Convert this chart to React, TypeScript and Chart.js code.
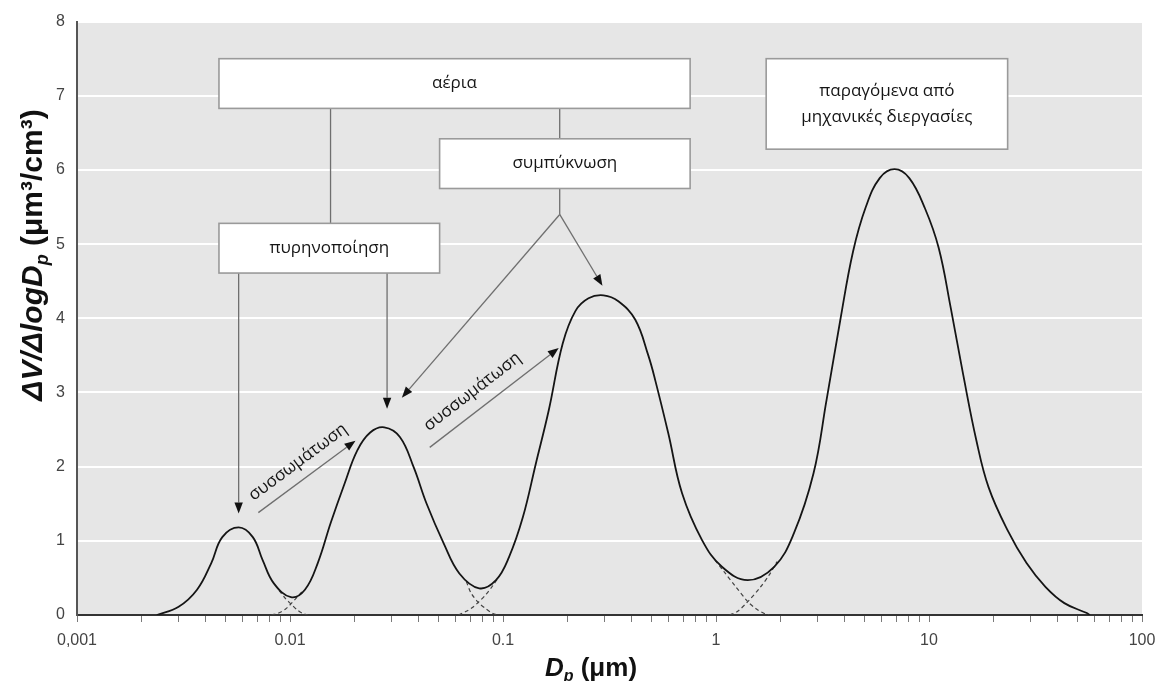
import React, { useEffect, useRef } from "react";
import { Chart, registerables } from "chart.js";

Chart.register(...registerables);

// ---- Data (particle diameter in µm, ΔV/ΔlogDp in µm³/cm³) ----
const sizeUm = [
  0.00237, 0.003, 0.00366, 0.00427, 0.00481, 0.00574, 0.00669, 0.00744, 0.00838,
  0.0101, 0.01175, 0.0135, 0.01552, 0.01803, 0.0207, 0.0238, 0.0277, 0.0328, 0.0381,
  0.0438, 0.0526, 0.0624, 0.0773, 0.0927, 0.1067, 0.124, 0.1426, 0.164, 0.1907, 0.219,
  0.252, 0.2965, 0.348, 0.418, 0.481, 0.519, 0.597, 0.693, 0.86, 1.066, 1.41, 1.876,
  2.32, 2.87, 3.3, 3.83, 4.4, 5.05, 5.87, 6.89, 8.08, 9.58, 11.1, 12.65, 14.45, 16.7,
  19.05, 23.4, 28.7, 35.2, 43.2, 54.7, 57,
];
const dVdlogDp = [
  0, 0.11, 0.34, 0.7, 1.05, 1.18, 1.05, 0.74, 0.43,
  0.24, 0.34, 0.7, 1.24, 1.77, 2.22, 2.46, 2.53, 2.4, 1.99,
  1.5, 0.97, 0.56, 0.36, 0.47, 0.78, 1.32, 2.04, 2.76, 3.66, 4.1,
  4.27, 4.31, 4.23, 3.98, 3.5, 3.16, 2.45, 1.64, 1.01, 0.65, 0.47, 0.65,
  1.1, 1.91, 2.89, 3.97, 4.9, 5.5, 5.89, 6.01, 5.89, 5.48, 4.95, 4.14, 3.25, 2.35,
  1.72, 1.14, 0.7, 0.38, 0.16, 0.03, 0,
];

// dashed tails of the individual modes where they overlap
const nucleiTailX = [0.0089, 0.00953, 0.0101, 0.0108, 0.0115, 0.0121];
const nucleiTailY = [0.33, 0.22, 0.15, 0.07, 0.02, 0];
const aitkenRiseX = [0.00818, 0.0089, 0.00953, 0.0101, 0.0108, 0.0115];
const aitkenRiseY = [0, 0.03, 0.08, 0.15, 0.24, 0.33];
const aitkenTailX = [0.0673, 0.0707, 0.0765, 0.0834, 0.0898, 0.0948];
const aitkenTailY = [0.45, 0.3, 0.17, 0.08, 0.02, 0];
const accumRiseX = [0.0618, 0.0673, 0.0718, 0.0765, 0.0834, 0.0898, 0.0948];
const accumRiseY = [0, 0.05, 0.1, 0.17, 0.28, 0.4, 0.5];
const accumTailX = [0.989, 1.1, 1.224, 1.41, 1.549, 1.686, 1.778];
const accumTailY = [0.74, 0.57, 0.4, 0.18, 0.08, 0.02, 0];
const coarseRiseX = [1.16, 1.264, 1.41, 1.6, 1.778, 1.936];
const coarseRiseY = [0, 0.05, 0.18, 0.36, 0.54, 0.72];

// axes
const xTickValues = [0.001, 0.01, 0.1, 1, 10, 100];
const xTickLabels = ["0,001", "0.01", "0.1", "1", "10", "100"];
const yMin = 0;
const yMax = 8;

// ---- Annotations (in data coordinates) ----
const boxes = [
  { x1: 0.00464, x2: 0.756, yTop: 7.5, yBottom: 6.83, lines: ["αέρια"] },
  { x1: 0.0504, x2: 0.756, yTop: 6.42, yBottom: 5.75, lines: ["συμπύκνωση"] },
  { x1: 0.00464, x2: 0.0504, yTop: 5.28, yBottom: 4.61, lines: ["πυρηνοποίηση"] },
  { x1: 1.72, x2: 23.4, yTop: 7.5, yBottom: 6.28, lines: ["παραγόμενα από", "μηχανικές διεργασίες"] },
];
const connectors = [
  [0.0155, 6.83, 0.0155, 5.28],
  [0.1846, 6.83, 0.1846, 6.42],
  [0.1846, 5.75, 0.1846, 5.4],
];
const arrows = [
  [0.1846, 5.4, 0.0335, 2.93],
  [0.1846, 5.4, 0.293, 4.44],
  [0.00574, 4.61, 0.00574, 1.37],
  [0.02856, 4.61, 0.02856, 2.78],
  [0.0071, 1.38, 0.0203, 2.35],
  [0.0453, 2.26, 0.1827, 3.6],
];
const slantedLabels = [
  { x: 0.0109, y: 2.06, text: "συσσωμάτωση", arrow: 4 },
  { x: 0.0718, y: 3.01, text: "συσσωμάτωση", arrow: 5 },
];

const toPoints = (xs: number[], ys: number[]) => xs.map((x, i) => ({ x, y: ys[i] }));

const minorTicks: number[] = (() => {
  const out: number[] = [];
  for (let e = -3; e <= 1; e++) {
    for (let m = 1; m <= 9; m++) out.push(Number((m * Math.pow(10, e)).toPrecision(3)));
  }
  out.push(100);
  return out;
})();

const annotFont = '17px "Open Sans", "Noto Sans", sans-serif';

function drawParts(ctx: CanvasRenderingContext2D, parts: { text: string; font: string; dy?: number }[], cx: number, base: number) {
  let total = 0;
  for (const p of parts) {
    ctx.font = p.font;
    total += ctx.measureText(p.text).width;
  }
  let x = cx - total / 2;
  ctx.textAlign = "left";
  ctx.textBaseline = "alphabetic";
  for (const p of parts) {
    ctx.font = p.font;
    ctx.fillText(p.text, x, base + (p.dy || 0));
    x += ctx.measureText(p.text).width;
  }
}

const decorPlugin = {
  id: "decor",
  beforeDraw(chart: any) {
    const { ctx, chartArea } = chart;
    ctx.save();
    ctx.fillStyle = "#e6e6e6";
    ctx.fillRect(chartArea.left, chartArea.top, chartArea.right - chartArea.left, chartArea.bottom - chartArea.top);
    ctx.restore();
  },
  afterDraw(chart: any) {
    const { ctx } = chart;
    const sx = chart.scales.x;
    const sy = chart.scales.y;
    const px = (v: number) => sx.getPixelForValue(v);
    const py = (v: number) => sy.getPixelForValue(v);
    ctx.save();

    // connectors
    ctx.strokeStyle = "#6f6f6f";
    ctx.lineWidth = 1.3;
    for (const c of connectors) {
      ctx.beginPath();
      ctx.moveTo(px(c[0]), py(c[1]));
      ctx.lineTo(px(c[2]), py(c[3]));
      ctx.stroke();
    }
    // arrows
    for (const a of arrows) {
      const x1 = px(a[0]), y1 = py(a[1]), x2 = px(a[2]), y2 = py(a[3]);
      const ang = Math.atan2(y2 - y1, x2 - x1);
      const hl = 11, hw = 4.2;
      const bx = x2 - hl * Math.cos(ang), by = y2 - hl * Math.sin(ang);
      ctx.strokeStyle = "#6f6f6f";
      ctx.lineWidth = 1.3;
      ctx.beginPath();
      ctx.moveTo(x1, y1);
      ctx.lineTo(bx, by);
      ctx.stroke();
      ctx.fillStyle = "#111";
      ctx.beginPath();
      ctx.moveTo(x2, y2);
      ctx.lineTo(bx + hw * Math.sin(ang), by - hw * Math.cos(ang));
      ctx.lineTo(bx - hw * Math.sin(ang), by + hw * Math.cos(ang));
      ctx.closePath();
      ctx.fill();
    }
    // boxes
    for (const b of boxes) {
      const l = px(b.x1), r = px(b.x2), t = py(b.yTop), btm = py(b.yBottom);
      ctx.fillStyle = "#ffffff";
      ctx.fillRect(l, t, r - l, btm - t);
      ctx.strokeStyle = "#9a9a9a";
      ctx.lineWidth = 1.6;
      ctx.strokeRect(l, t, r - l, btm - t);
      ctx.fillStyle = "#151515";
      ctx.font = annotFont;
      ctx.textAlign = "center";
      ctx.textBaseline = "middle";
      const cy = (t + btm) / 2;
      const lh = 26;
      b.lines.forEach((line, i) => {
        ctx.fillText(line, (l + r) / 2, cy + (i - (b.lines.length - 1) / 2) * lh);
      });
    }
    // slanted labels
    for (const s of slantedLabels) {
      const a = arrows[s.arrow];
      const ang = Math.atan2(py(a[3]) - py(a[1]), px(a[2]) - px(a[0]));
      ctx.save();
      ctx.translate(px(s.x), py(s.y));
      ctx.rotate(ang);
      ctx.fillStyle = "#151515";
      ctx.font = annotFont;
      ctx.textAlign = "center";
      ctx.textBaseline = "middle";
      ctx.fillText(s.text, 0, 0);
      ctx.restore();
    }

    // axis titles
    ctx.fillStyle = "#111";
    const fam = '"Liberation Sans", Arial, sans-serif';
    drawParts(
      ctx,
      [
        { text: "D", font: `bold italic 26px ${fam}` },
        { text: "p", font: `bold italic 16px ${fam}`, dy: 5 },
        { text: " (μm)", font: `bold 26px ${fam}` },
      ],
      591,
      676
    );
    ctx.save();
    ctx.translate(42, 255);
    ctx.rotate(-Math.PI / 2);
    drawParts(
      ctx,
      [
        { text: "ΔV/ΔlogD", font: `bold italic 30px ${fam}` },
        { text: "p", font: `bold italic 18px ${fam}`, dy: 6 },
        { text: " (μm³/cm³)", font: `bold 30px ${fam}` },
      ],
      0,
      0
    );
    ctx.restore();
    ctx.restore();
  },
};

export default function App() {
  const canvasRef = useRef<HTMLCanvasElement | null>(null);

  useEffect(() => {
    if (!canvasRef.current) return;
    const dashed = (xs: number[], ys: number[]) => ({
      data: toPoints(xs, ys),
      borderColor: "#444",
      borderWidth: 1.2,
      borderDash: [4, 3],
      pointRadius: 0,
      fill: false,
      tension: 0.3,
      order: 2,
    });
    const chart = new Chart(canvasRef.current, {
      type: "line",
      data: {
        datasets: [
          {
            data: toPoints(sizeUm, dVdlogDp),
            borderColor: "#151515",
            borderWidth: 1.8,
            pointRadius: 0,
            fill: false,
            tension: 0.4,
            order: 0,
          },
          dashed(nucleiTailX, nucleiTailY),
          dashed(aitkenRiseX, aitkenRiseY),
          dashed(aitkenTailX, aitkenTailY),
          dashed(accumRiseX, accumRiseY),
          dashed(accumTailX, accumTailY),
          dashed(coarseRiseX, coarseRiseY),
        ],
      },
      options: {
        responsive: false,
        devicePixelRatio: 1,
        animation: false,
        layout: { padding: { top: 20, right: 15, left: 0, bottom: 0 } },
        plugins: { legend: { display: false }, tooltip: { enabled: false } },
        scales: {
          x: {
            type: "logarithmic",
            min: xTickValues[0],
            max: xTickValues[xTickValues.length - 1],
            afterBuildTicks: (scale: any) => {
              scale.ticks = minorTicks.map((v) => ({ value: v }));
            },
            afterFit: (scale: any) => {
              scale.height = 66;
              scale.paddingRight = 0;
              scale.paddingLeft = 0;
            },
            ticks: {
              autoSkip: false,
              maxRotation: 0,
              padding: 9,
              color: "#444",
              font: { family: '"Liberation Sans Narrow", "Liberation Sans", sans-serif', size: 16 },
              callback: (v: any) => {
                const idx = xTickValues.findIndex((t) => Math.abs(Math.log10(t) - Math.log10(Number(v))) < 1e-6);
                return idx >= 0 ? xTickLabels[idx] : "";
              },
            },
            grid: { drawOnChartArea: false, drawTicks: true, tickLength: 7, color: "#7a7a7a", lineWidth: 1 },
            border: { display: true, color: "#333", width: 2 },
          },
          y: {
            type: "linear",
            min: yMin,
            max: yMax,
            afterFit: (scale: any) => {
              scale.width = 77;
            },
            ticks: {
              stepSize: 1,
              padding: 12,
              color: "#444",
              font: { family: '"Liberation Sans Narrow", "Liberation Sans", sans-serif', size: 16 },
            },
            grid: { color: "#ffffff", lineWidth: 2, drawTicks: false },
            border: { display: true, color: "#555", width: 2 },
          },
        },
      },
      plugins: [decorPlugin],
    } as any);
    return () => chart.destroy();
  }, []);

  return (
    <div style={{ position: "absolute", left: 0, top: 0, width: 1157, height: 681, background: "#fff" }}>
      <canvas ref={canvasRef} width={1157} height={681} style={{ display: "block" }} />
    </div>
  );
}
